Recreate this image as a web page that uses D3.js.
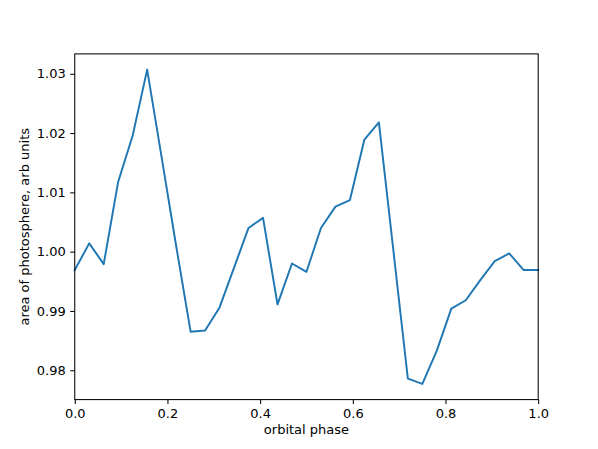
<!DOCTYPE html>
<html lang="en">
<head>
    <meta charset="UTF-8">
    <title>orbital phase</title>
    <script src="https://cdn.jsdelivr.net/npm/d3@7/dist/d3.min.js"></script>
    <style>
        body { margin: 0; background: #fff; }
        text { font-family: "DejaVu Sans", sans-serif; }
    </style>
</head>
<body>
<script>
    // data
    const phase = [0, 0.03125, 0.0625, 0.09375, 0.125, 0.15625, 0.1875, 0.21875,
        0.25, 0.28125, 0.3125, 0.34375, 0.375, 0.40625, 0.4375, 0.46875,
        0.5, 0.53125, 0.5625, 0.59375, 0.625, 0.65625, 0.6875, 0.71875,
        0.75, 0.78125, 0.8125, 0.84375, 0.875, 0.90625, 0.9375, 0.96875, 1.0];
    const area = [0.9969, 1.0014, 0.9979, 1.0118, 1.0196, 1.0307, 1.0159, 1.0010,
        0.9865, 0.9867, 0.9906, 0.9973, 1.0040, 1.0057, 0.9911, 0.9980,
        0.9966, 1.0040, 1.0076, 1.0087, 1.0189, 1.0218, 1.0002, 0.9786,
        0.9777, 0.9833, 0.9904, 0.9918, 0.9952, 0.9984, 0.9997, 0.9969, 0.9969];
    const xTicks = [0, 0.2, 0.4, 0.6, 0.8, 1.0];
    const yTicks = [0.98, 0.99, 1.00, 1.01, 1.02, 1.03];

    const width = 598, height = 449;
    const margin = {left: 74.75, right: 59.8, top: 53.9, bottom: 49.4};
    const fontSize = '13px';

    const svg = d3.select('body').append('svg')
        .attr('width', width)
        .attr('height', height);

    // x limits fixed at 0..1, y gets matplotlib-like 5% padding
    const x = d3.scaleLinear()
        .domain([0, 1])
        .range([margin.left, width - margin.right]);

    const [lo, hi] = d3.extent(area);
    const pad = (hi - lo) * 0.05;
    const y = d3.scaleLinear()
        .domain([lo - pad, hi + pad])
        .range([height - margin.bottom, margin.top]);

    const line = d3.line()
        .x((d, i) => x(phase[i]))
        .y(d => y(d));

    svg.append('path')
        .datum(area)
        .attr('fill', 'none')
        .attr('stroke', '#1f77b4')
        .attr('stroke-width', 1.95)
        .attr('stroke-linejoin', 'round')
        .attr('stroke-linecap', 'square')
        .attr('d', line);

    // axes
    const xAxis = svg.append('g')
        .attr('transform', 'translate(0,' + (height - margin.bottom) + ')')
        .call(d3.axisBottom(x).tickValues(xTicks).tickFormat(d3.format('.1f'))
            .tickSize(4.5).tickPadding(4.5));
    const yAxis = svg.append('g')
        .attr('transform', 'translate(' + margin.left + ',0)')
        .call(d3.axisLeft(y).tickValues(yTicks).tickFormat(d3.format('.2f'))
            .tickSize(4.5).tickPadding(4.5));

    [xAxis, yAxis].forEach(g => {
        g.select('.domain').remove();
        g.selectAll('line').attr('stroke', '#000').attr('stroke-width', 1.04);
        g.selectAll('text').attr('fill', '#000').style('font-size', fontSize)
            .style('font-family', '"DejaVu Sans", sans-serif');
    });

    // frame
    svg.append('rect')
        .attr('x', margin.left)
        .attr('y', margin.top)
        .attr('width', width - margin.left - margin.right)
        .attr('height', height - margin.top - margin.bottom)
        .attr('fill', 'none')
        .attr('stroke', '#000')
        .attr('stroke-width', 1.04);

    // labels
    svg.append('text')
        .attr('x', (margin.left + width - margin.right) / 2)
        .attr('y', 434)
        .attr('text-anchor', 'middle')
        .style('font-size', fontSize)
        .text('orbital phase');

    svg.append('text')
        .attr('transform', 'translate(29,' + ((margin.top + height - margin.bottom) / 2) + ') rotate(-90)')
        .attr('text-anchor', 'middle')
        .style('font-size', fontSize)
        .text('area of photosphere, arb units');
</script>
</body>
</html>
